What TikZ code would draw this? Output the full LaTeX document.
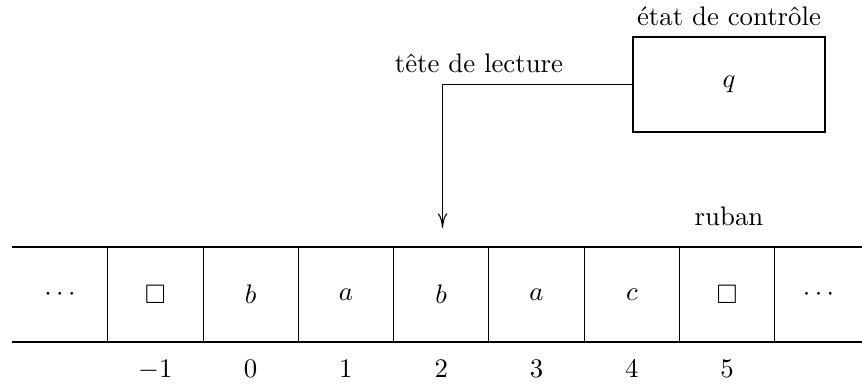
\documentclass[tikz,border=0pt]{standalone}
\usepackage{amssymb}
\usetikzlibrary{arrows.meta}
\begin{document}
\begin{tikzpicture}[x=0.01312cm,y=-0.01312cm,
  cellbox/.style={minimum width=1.25cm,minimum height=1.25cm,inner sep=0pt},
  idx/.style={inner sep=0pt,anchor=base},
  ctrlbox/.style={draw,minimum width=2.52cm,minimum height=1.246cm,inner sep=0pt},
  tape/.style={line width=0.4pt}]
\useasboundingbox (0,0) rectangle (862,386);
% control box
\node[ctrlbox] (ctrl) at (729,84.5) {$q$};
\node[anchor=base,inner sep=0pt] (etat) at (729,26) {état de contrôle};
\node[anchor=base,inner sep=0pt] (tete) at (479,73) {tête de lecture};
\node[anchor=base,inner sep=0pt] (ruban) at (729,225) {ruban};
% tape
\draw[tape] (12,247) -- (862,247);
\draw[tape] (12,342) -- (862,342);
\foreach \x in {107.5,203.2,298.3,393.6,488.9,584.2,679.5,774.8}
  \draw[tape] (\x,247) -- (\x,342);
\node[cellbox] (c0) at (60,294.5) {$\cdots$};
\node[cellbox] (c1) at (155.3,294.5) {$\Box$};
\node[cellbox] (c2) at (250.6,294.5) {$b$};
\node[cellbox] (c3) at (345.9,294.5) {$a$};
\node[cellbox] (c4) at (441.2,294.5) {$b$};
\node[cellbox] (c5) at (536.5,294.5) {$a$};
\node[cellbox] (c6) at (631.8,294.5) {$c$};
\node[cellbox] (c7) at (727.1,294.5) {$\Box$};
\node[cellbox] (c8) at (818.5,294.5) {$\cdots$};
% indices
\node[idx] (i1) at (155.3,377) {$-1$};
\node[idx] (i2) at (250.6,377) {$0$};
\node[idx] (i3) at (345.9,377) {$1$};
\node[idx] (i4) at (441.2,377) {$2$};
\node[idx] (i5) at (536.5,377) {$3$};
\node[idx] (i6) at (631.8,377) {$4$};
\node[idx] (i7) at (727.1,377) {$5$};
% head
\coordinate (tip) at (442.5,228);
\draw[-{To[length=5.5pt,width=3.6pt]}] (ctrl.west) -| (tip);
\end{tikzpicture}
\end{document}
